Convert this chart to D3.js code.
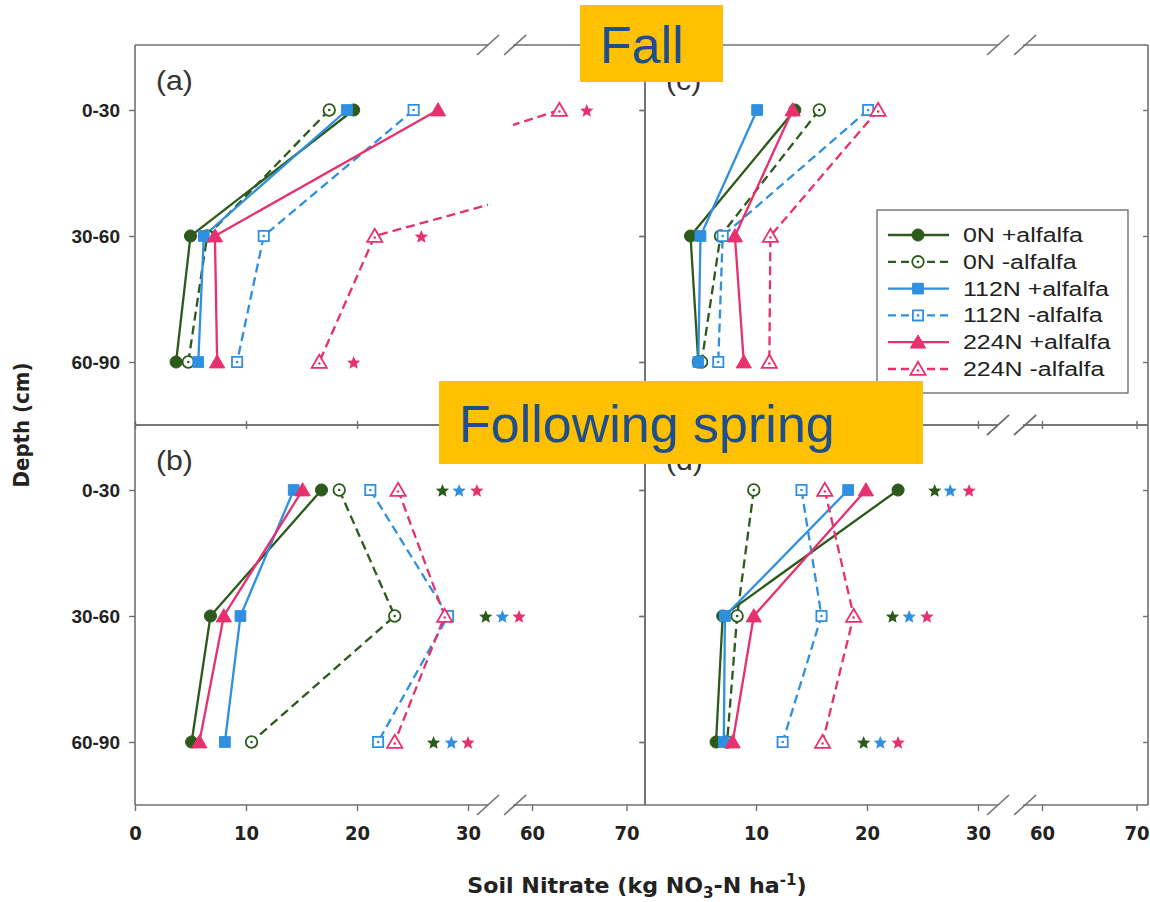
<!DOCTYPE html>
<html>
<head>
<meta charset="utf-8">
<script src="https://cdn.jsdelivr.net/npm/d3@7"></script>
<style>
  body { margin: 0; background: #fff; }
  svg { display: block; }
  .frame { stroke: #6f6f6f; stroke-width: 1.6; fill: none; }
  .tick line { stroke: #6f6f6f; stroke-width: 1.4; }
  .ytick text { font-family: "Liberation Sans", Arial, sans-serif; font-weight: bold; font-size: 19px; fill: #222; }
  .xtick text { font-family: "Liberation Sans Narrow", "Arial Narrow", "DejaVu Sans Condensed", sans-serif; font-weight: bold; font-size: 20px; fill: #222; }
  .axis-title { font-family: "Liberation Sans Narrow", "Arial Narrow", "DejaVu Sans Condensed", sans-serif; font-weight: bold; font-size: 22px; fill: #222; }
  .panel-label { font-family: "Liberation Sans", Arial, sans-serif; font-size: 27px; fill: #333; }
  .legend text { font-family: "Liberation Sans", Arial, sans-serif; font-size: 19.5px; fill: #222; }
  .banner text { font-family: "Liberation Sans", Arial, sans-serif; font-size: 52px; fill: #1f4e8c; }
</style>
</head>
<body>
<svg width="1150" height="902"></svg>
<script>
const depthLabels = ["0-30", "30-60", "60-90"];
const seriesNames = ["0N +alfalfa", "0N -alfalfa", "112N +alfalfa", "112N -alfalfa", "224N +alfalfa", "224N -alfalfa"];
const seriesColors = ["#2c5a1a", "#2c5a1a", "#2f8fe0", "#2f8fe0", "#e8306e", "#e8306e"];

// soil nitrate per series, by depth (0-30, 30-60, 60-90)
const fallAlfalfaPlot = [      // (a)
  [19.7, 5.0, 3.7],
  [17.5, 6.5, 4.8],
  [19.1, 6.2, 5.7],
  [25.1, 11.6, 9.2],
  [27.3, 7.2, 7.4],
  [62.9, 21.6, 16.6]
];
const springAlfalfaPlot = [    // (b)
  [16.8, 6.8, 5.1],
  [18.4, 23.4, 10.5],
  [14.3, 9.5, 8.1],
  [21.2, 28.2, 21.9],
  [15.1, 8.0, 5.8],
  [23.7, 27.9, 23.4]
];
const fallSecondPlot = [       // (c)
  [13.5, 4.1, 4.8],
  [15.7, 6.8, 5.1],
  [10.1, 5.0, 4.8],
  [20.1, 7.0, 6.6],
  [13.3, 8.1, 8.9],
  [21.0, 11.3, 11.2]
];
const springSecondPlot = [     // (d)
  [22.8, 7.0, 6.4],
  [9.8, 8.3, 7.4],
  [18.3, 7.2, 7.1],
  [14.1, 15.9, 12.4],
  [19.9, 9.8, 7.9],
  [16.2, 18.8, 16.0]
];

// significance stars: [series colour index, depth index, x position in kg]
const starsA = [[5, 0, 40.7], [5, 1, 25.8], [5, 2, 19.7]];
const starsB = [
  [0, 0, 27.7], [2, 0, 29.2], [4, 0, 30.8],
  [0, 1, 31.6], [2, 1, 33.1], [4, 1, 34.6],
  [0, 2, 26.9], [2, 2, 28.5], [4, 2, 30.0]
];
const starsC = [];
const starsD = [
  [0, 0, 26.1], [2, 0, 27.5], [4, 0, 29.2],
  [0, 1, 22.3], [2, 1, 23.8], [4, 1, 25.4],
  [0, 2, 19.7], [2, 2, 21.2], [4, 2, 22.8]
];

const lowTicks = [0, 10, 20, 30];
const highTicks = [60, 70];

const svg = d3.select("svg");
svg.append("rect").attr("width", 1150).attr("height", 902).attr("fill", "#fff");

const defs = svg.append("defs");

const panels = [
  { id: "a", data: fallAlfalfaPlot, stars: starsA, x0: 135, x1: 645, top: 45 },
  { id: "b", data: springAlfalfaPlot, stars: starsB, x0: 135, x1: 645, top: 425 },
  { id: "c", data: fallSecondPlot, stars: starsC, x0: 645, x1: 1148, top: 45 },
  { id: "d", data: springSecondPlot, stars: starsD, x0: 645, x1: 1148, top: 425 }
];

const panelH = 380;
const breakLow = 31.8, breakHigh = 58;

function shapeFor(i) {
  return [d3.symbolCircle, d3.symbolCircle, d3.symbolSquare, d3.symbolSquare, d3.symbolTriangle, d3.symbolTriangle][i];
}
function sizeFor(i) {
  return [115, 105, 115, 105, 100, 100][i];
}

function drawMarker(g, i, x, y) {
  const filled = i % 2 === 0;
  const dy = i >= 4 ? 1.5 : 0;
  g.append("path")
    .attr("d", d3.symbol().type(shapeFor(i)).size(sizeFor(i))())
    .attr("transform", `translate(${x},${y + dy})`)
    .attr("fill", filled ? seriesColors[i] : "#fff")
    .attr("stroke", seriesColors[i])
    .attr("stroke-width", filled ? 1 : 1.8);
  if (!filled) {
    g.append("circle").attr("cx", x).attr("cy", y + dy).attr("r", 1.3).attr("fill", seriesColors[i]);
  }
}

function starPath(r) {
  const pts = [];
  for (let k = 0; k < 10; k++) {
    const a = -Math.PI / 2 + k * Math.PI / 5;
    const rr = k % 2 === 0 ? r : r * 0.45;
    pts.push([Math.cos(a) * rr, Math.sin(a) * rr]);
  }
  return "M" + pts.map(p => p.join(",")).join("L") + "Z";
}

function slash(g, x, y) {
  g.append("line").attr("class", "frame")
    .attr("x1", x - 11).attr("y1", y + 10).attr("x2", x + 11).attr("y2", y - 10)
    .attr("stroke-width", 1.4);
}

panels.forEach(p => {
  const xA = d3.scaleLinear().domain([0, 30]).range([p.x0, p.x0 + 333]);
  const xB = d3.scaleLinear().domain([60, 70]).range([p.x0 + 397, p.x0 + 491.5]);
  const y = d3.scalePoint().domain(depthLabels).range([p.top + 2, p.top + panelH]).padding(0.5);
  const gapL = xA(breakLow), gapR = xB(breakHigh);

  const g = svg.append("g");

  defs.append("clipPath").attr("id", "clipA" + p.id)
    .append("rect").attr("x", p.x0).attr("y", p.top).attr("width", gapL - p.x0).attr("height", panelH);
  defs.append("clipPath").attr("id", "clipB" + p.id)
    .append("rect").attr("x", gapR).attr("y", p.top).attr("width", p.x1 - gapR).attr("height", panelH);

  // y ticks (left side of panel, and inner ticks on right edge)
  const yAx = g.append("g").attr("class", "ytick")
    .attr("transform", `translate(${p.x0},0)`)
    .call(d3.axisLeft(y).tickSize(6).tickPadding(9));
  yAx.select(".domain").remove();
  if (p.x0 > 135) yAx.selectAll("text").remove();
  g.append("g").attr("class", "ytick")
    .attr("transform", `translate(${p.x1},0)`)
    .call(d3.axisLeft(y).tickSize(5).tickFormat(""))
    .select(".domain").remove();

  // x ticks on bottom of panel
  const bottom = p.top + panelH;
  const lowVals = p.x0 > 135 ? lowTicks.slice(1) : lowTicks;
  [[xA, lowVals], [xB, highTicks]].forEach(([sc, vals]) => {
    const ax = g.append("g").attr("class", "xtick")
      .attr("transform", `translate(0,${bottom})`)
      .call(d3.axisBottom(sc).tickValues(vals).tickSize(6).tickPadding(15).tickFormat(d3.format("d")));
    ax.select(".domain").remove();
    if (p.top < 400) {
      ax.selectAll("text").remove();
      ax.selectAll("line").attr("y1", -4).attr("y2", 4);
    }
  });

  // frame with axis breaks
  [p.top, bottom].forEach(yy => {
    g.append("line").attr("class", "frame").attr("x1", p.x0).attr("x2", gapL).attr("y1", yy).attr("y2", yy);
    g.append("line").attr("class", "frame").attr("x1", gapR).attr("x2", p.x1).attr("y1", yy).attr("y2", yy);
    slash(g, gapL, yy);
    slash(g, gapR + 2, yy);
  });
  g.append("line").attr("class", "frame").attr("x1", p.x0).attr("x2", p.x0).attr("y1", p.top).attr("y2", bottom);
  g.append("line").attr("class", "frame").attr("x1", p.x1).attr("x2", p.x1).attr("y1", p.top).attr("y2", bottom);

  // panel label
  g.append("text").attr("class", "panel-label")
    .attr("x", p.x0 + 21).attr("y", p.top + 45)
    .attr("transform", `translate(${-(p.x0 + 21) * 0.12},0) scale(1.12,1)`)
    .text(`(${p.id})`);

  // lines: each series drawn on both axis segments and clipped
  [["A", xA], ["B", xB]].forEach(([seg, sc]) => {
    const lg = g.append("g").attr("clip-path", `url(#clip${seg}${p.id})`);
    p.data.forEach((vals, i) => {
      const line = d3.line().x(d => sc(d[1])).y(d => y(d[0]));
      lg.append("path")
        .attr("d", line(vals.map((v, k) => [depthLabels[k], v])))
        .attr("fill", "none")
        .attr("stroke", seriesColors[i])
        .attr("stroke-width", 2.3)
        .attr("stroke-dasharray", i % 2 === 1 ? "9,5" : null);
    });
  });

  // markers
  const mg = g.append("g");
  p.data.forEach((vals, i) => {
    vals.forEach((v, k) => {
      const px = v <= breakLow ? xA(v) : xB(v);
      drawMarker(mg, i, px, y(depthLabels[k]));
    });
  });

  // stars
  p.stars.forEach(([ci, di, v]) => {
    g.append("path")
      .attr("d", starPath(7))
      .attr("transform", `translate(${xA(v)},${y(depthLabels[di]) + 1})`)
      .attr("fill", seriesColors[ci]);
  });
});

// legend
const legend = svg.append("g").attr("class", "legend");
legend.append("rect")
  .attr("x", 877).attr("y", 210).attr("width", 251).attr("height", 183)
  .attr("fill", "#fff").attr("stroke", "#666").attr("stroke-width", 1.3);
seriesNames.forEach((name, i) => {
  const yy = 235 + i * 26.8;
  legend.append("line")
    .attr("x1", 888).attr("x2", 949).attr("y1", yy).attr("y2", yy)
    .attr("stroke", seriesColors[i]).attr("stroke-width", 2.3)
    .attr("stroke-dasharray", i % 2 === 1 ? "8,5" : null);
  drawMarker(legend, i, 918, yy);
  legend.append("text")
    .attr("x", 963).attr("y", yy + 7)
    .attr("transform", `translate(${963 * -0.28},0) scale(1.28,1)`)
    .text(name);
});

// axis titles
svg.append("text").attr("class", "axis-title")
  .attr("transform", "translate(29,425) rotate(-90)")
  .attr("text-anchor", "middle")
  .text("Depth (cm)");

const xt = svg.append("text").attr("class", "axis-title")
  .attr("x", 637).attr("y", 893).attr("text-anchor", "middle")
  .attr("transform", `translate(${-637 * 0.12},0) scale(1.12,1)`);
xt.append("tspan").text("Soil Nitrate (kg NO");
xt.append("tspan").attr("dy", 5).attr("font-size", "15px").text("3");
xt.append("tspan").attr("dy", -5).text("-N ha");
xt.append("tspan").attr("dy", -8).attr("font-size", "15px").text("-1");
xt.append("tspan").attr("dy", 8).text(")");

// season banners
const banners = [
  { text: "Fall", x: 580, y: 5, w: 143, h: 77 },
  { text: "Following spring", x: 439, y: 381, w: 484, h: 83 }
];
const bg = svg.append("g").attr("class", "banner");
banners.forEach(b => {
  bg.append("rect").attr("x", b.x).attr("y", b.y).attr("width", b.w).attr("height", b.h).attr("fill", "#ffc000");
  bg.append("text").attr("x", b.x + 20).attr("y", b.y + b.h / 2 + 19).text(b.text);
});
</script>
</body>
</html>
